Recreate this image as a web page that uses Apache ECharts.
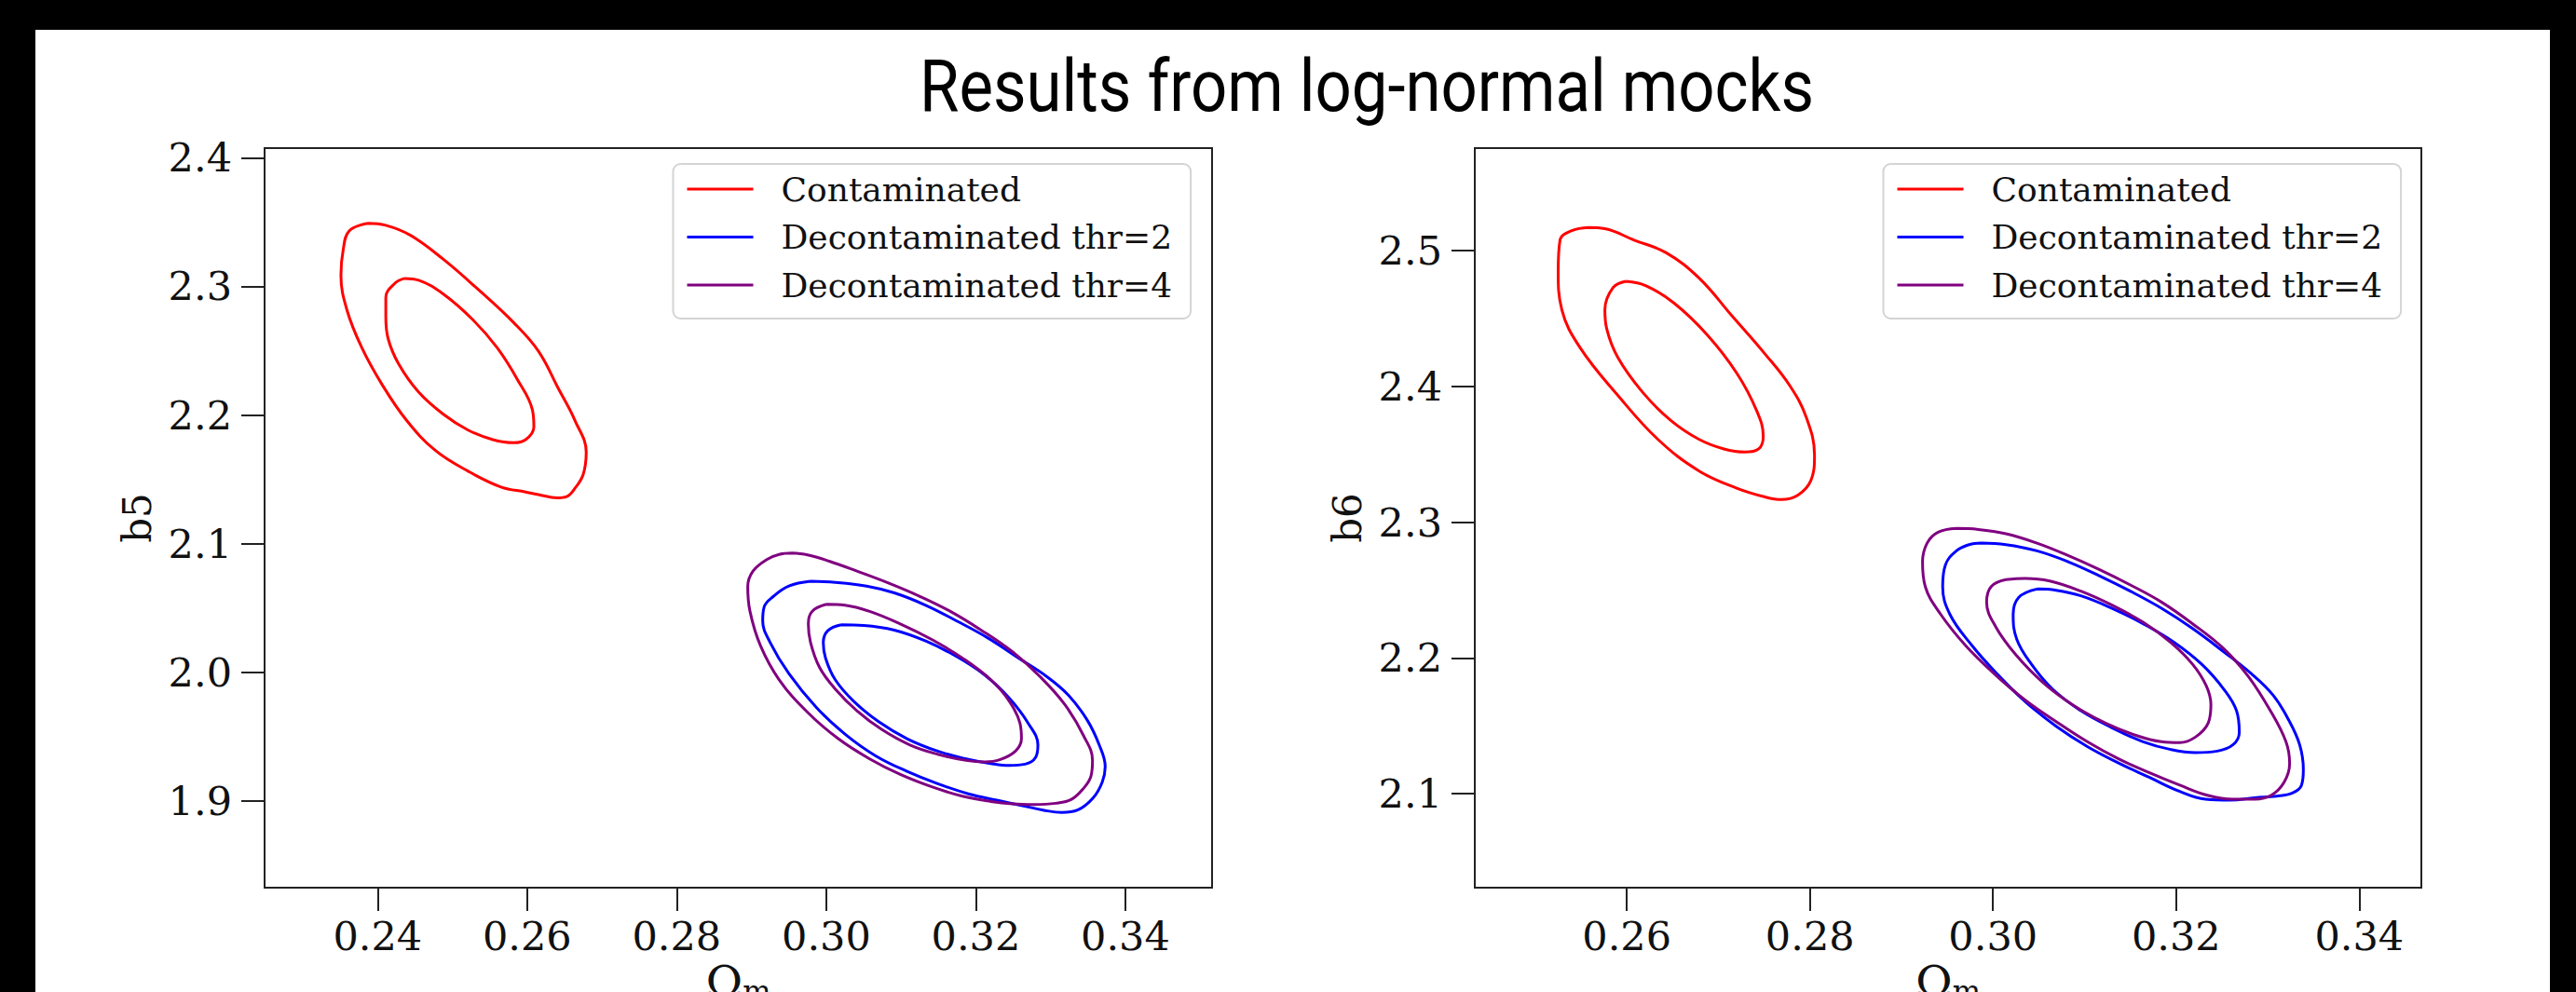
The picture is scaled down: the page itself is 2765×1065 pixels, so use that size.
<!DOCTYPE html>
<html>
<head>
<meta charset="utf-8">
<title>Results from log-normal mocks</title>
<script src="https://cdn.jsdelivr.net/npm/echarts@6/dist/echarts.min.js"></script>
<style>
  html, body { margin: 0; padding: 0; background: #000; }
  #main { width: 2765px; height: 1065px; }
</style>
</head>
<body>
<div id="main"></div>
<script>
// tick labels
const xTicksB5 = [0.24, 0.26, 0.28, 0.30, 0.32, 0.34]
const yTicksB5 = [1.9, 2.0, 2.1, 2.2, 2.3, 2.4]
const xTicksB6 = [0.26, 0.28, 0.30, 0.32, 0.34]
const yTicksB6 = [2.1, 2.2, 2.3, 2.4, 2.5]

// legend entries
const seriesNames = ['Contaminated', 'Decontaminated thr=2', 'Decontaminated thr=4']

// contours [Omega_m, b5] (inner = 1 sigma, outer = 2 sigma)
const b5ContamOuter = [[0.2387,2.3490],[0.2411,2.3475],[0.2444,2.3397],[0.2488,2.3210],[0.2532,2.2989],[0.2582,2.2718],[0.2615,2.2497],[0.2642,2.2203],[0.2664,2.1957],[0.2679,2.1711],[0.2675,2.1539],[0.2664,2.1431],[0.2653,2.1367],[0.2640,2.1357],[0.2615,2.1382],[0.2598,2.1402],[0.2565,2.1441],[0.2521,2.1564],[0.2477,2.1726],[0.2439,2.1957],[0.2406,2.2237],[0.2379,2.2522],[0.2359,2.2817],[0.2351,2.3087],[0.2354,2.3284],[0.2362,2.3431],[0.2387,2.3490]]
const b5ContamInner = [[0.2436,2.3062],[0.2455,2.3048],[0.2488,2.2940],[0.2527,2.2743],[0.2560,2.2522],[0.2587,2.2276],[0.2607,2.2041],[0.2609,2.1907],[0.2598,2.1809],[0.2582,2.1785],[0.2554,2.1809],[0.2521,2.1883],[0.2488,2.2006],[0.2455,2.2178],[0.2428,2.2399],[0.2414,2.2596],[0.2411,2.2768],[0.2411,2.2915],[0.2423,2.3023],[0.2436,2.3062]]
const b5Thr2Outer = [[0.2979,2.0708],[0.3012,2.0700],[0.3054,2.0671],[0.3091,2.0618],[0.3133,2.0522],[0.3174,2.0401],[0.3216,2.0268],[0.3257,2.0112],[0.3295,1.9967],[0.3324,1.9822],[0.3349,1.9629],[0.3365,1.9436],[0.3373,1.9268],[0.3369,1.9147],[0.3357,1.9026],[0.3336,1.8930],[0.3315,1.8911],[0.3290,1.8930],[0.3261,1.8966],[0.3228,1.9007],[0.3191,1.9055],[0.3149,1.9135],[0.3108,1.9231],[0.3066,1.9352],[0.3025,1.9521],[0.2987,1.9726],[0.2950,1.9991],[0.2925,2.0232],[0.2915,2.0401],[0.2917,2.0510],[0.2929,2.0589],[0.2950,2.0671],[0.2979,2.0708]]
const b5Thr2Inner = [[0.3020,2.0370],[0.3050,2.0365],[0.3091,2.0329],[0.3133,2.0244],[0.3174,2.0124],[0.3212,1.9979],[0.3245,1.9798],[0.3270,1.9605],[0.3283,1.9436],[0.3280,1.9340],[0.3266,1.9287],[0.3245,1.9277],[0.3220,1.9292],[0.3187,1.9328],[0.3149,1.9388],[0.3108,1.9485],[0.3070,1.9617],[0.3037,1.9774],[0.3012,1.9943],[0.2999,2.0112],[0.2996,2.0232],[0.3002,2.0324],[0.3020,2.0370]]
const b5Thr4Outer = [[0.2954,2.0927],[0.2975,2.0913],[0.3004,2.0864],[0.3041,2.0787],[0.3083,2.0695],[0.3124,2.0594],[0.3166,2.0474],[0.3207,2.0329],[0.3249,2.0160],[0.3286,1.9967],[0.3319,1.9750],[0.3344,1.9509],[0.3356,1.9316],[0.3354,1.9195],[0.3344,1.9099],[0.3328,1.9014],[0.3307,1.8983],[0.3278,1.8973],[0.3249,1.8978],[0.3220,1.8997],[0.3182,1.9038],[0.3141,1.9111],[0.3099,1.9207],[0.3058,1.9328],[0.3016,1.9485],[0.2975,1.9690],[0.2937,1.9943],[0.2912,2.0208],[0.2898,2.0474],[0.2895,2.0667],[0.2902,2.0787],[0.2921,2.0879],[0.2937,2.0917],[0.2954,2.0927]]
const b5Thr4Inner = [[0.3000,2.0529],[0.3025,2.0522],[0.3058,2.0474],[0.3099,2.0377],[0.3141,2.0256],[0.3182,2.0112],[0.3220,1.9943],[0.3245,1.9774],[0.3259,1.9605],[0.3261,1.9485],[0.3253,1.9388],[0.3232,1.9321],[0.3212,1.9304],[0.3187,1.9316],[0.3149,1.9364],[0.3112,1.9436],[0.3074,1.9557],[0.3041,1.9702],[0.3012,1.9871],[0.2991,2.0039],[0.2979,2.0232],[0.2976,2.0377],[0.2981,2.0474],[0.3000,2.0529]]

// contours [Omega_m, b6], right panel
const b6ContamOuter = [[0.2558,2.5170],[0.2576,2.5161],[0.2608,2.5077],[0.2643,2.4984],[0.2679,2.4797],[0.2715,2.4518],[0.2751,2.4238],[0.2778,2.4005],[0.2796,2.3772],[0.2805,2.3493],[0.2801,2.3306],[0.2787,2.3199],[0.2769,2.3166],[0.2751,2.3185],[0.2720,2.3250],[0.2679,2.3376],[0.2634,2.3609],[0.2590,2.3935],[0.2549,2.4284],[0.2529,2.4564],[0.2525,2.4844],[0.2527,2.5077],[0.2540,2.5147],[0.2558,2.5170]]
const b6ContamInner = [[0.2599,2.4774],[0.2621,2.4741],[0.2652,2.4611],[0.2688,2.4378],[0.2720,2.4098],[0.2742,2.3818],[0.2749,2.3632],[0.2744,2.3539],[0.2729,2.3516],[0.2706,2.3539],[0.2679,2.3609],[0.2648,2.3749],[0.2617,2.3958],[0.2590,2.4214],[0.2578,2.4424],[0.2576,2.4564],[0.2585,2.4728],[0.2599,2.4774]]
const b6Thr2Outer = [[0.2987,2.2845],[0.3014,2.2834],[0.3048,2.2788],[0.3082,2.2708],[0.3116,2.2605],[0.3150,2.2491],[0.3184,2.2365],[0.3218,2.2216],[0.3252,2.2045],[0.3282,2.1885],[0.3306,2.1725],[0.3323,2.1542],[0.3335,2.1359],[0.3339,2.1176],[0.3337,2.1062],[0.3327,2.1004],[0.3310,2.0981],[0.3286,2.0970],[0.3259,2.0952],[0.3232,2.0959],[0.3204,2.1016],[0.3171,2.1119],[0.3137,2.1226],[0.3103,2.1347],[0.3069,2.1496],[0.3035,2.1679],[0.3004,2.1885],[0.2977,2.2091],[0.2953,2.2319],[0.2945,2.2525],[0.2948,2.2685],[0.2960,2.2788],[0.2974,2.2834],[0.2987,2.2845]]
const b6Thr2Inner = [[0.3048,2.2507],[0.3069,2.2498],[0.3096,2.2457],[0.3130,2.2365],[0.3164,2.2251],[0.3198,2.2114],[0.3228,2.1953],[0.3252,2.1770],[0.3266,2.1610],[0.3269,2.1450],[0.3262,2.1359],[0.3245,2.1313],[0.3221,2.1302],[0.3194,2.1325],[0.3164,2.1382],[0.3130,2.1485],[0.3096,2.1610],[0.3065,2.1770],[0.3042,2.1953],[0.3026,2.2136],[0.3022,2.2319],[0.3028,2.2445],[0.3048,2.2507]]
const b6Thr4Outer = [[0.2960,2.2953],[0.2984,2.2946],[0.3014,2.2914],[0.3048,2.2845],[0.3082,2.2754],[0.3116,2.2651],[0.3150,2.2537],[0.3184,2.2411],[0.3218,2.2251],[0.3252,2.2068],[0.3279,2.1862],[0.3303,2.1610],[0.3320,2.1382],[0.3324,2.1222],[0.3318,2.1084],[0.3304,2.0988],[0.3286,2.0959],[0.3262,2.0959],[0.3235,2.0986],[0.3204,2.1062],[0.3171,2.1153],[0.3137,2.1256],[0.3103,2.1382],[0.3069,2.1530],[0.3035,2.1690],[0.3001,2.1885],[0.2970,2.2091],[0.2943,2.2319],[0.2926,2.2525],[0.2923,2.2708],[0.2928,2.2845],[0.2940,2.2925],[0.2960,2.2953]]
const b6Thr4Inner = [[0.3014,2.2576],[0.3035,2.2585],[0.3062,2.2566],[0.3096,2.2491],[0.3130,2.2388],[0.3164,2.2262],[0.3194,2.2114],[0.3218,2.1953],[0.3233,2.1793],[0.3238,2.1656],[0.3235,2.1519],[0.3221,2.1416],[0.3204,2.1375],[0.3184,2.1382],[0.3157,2.1427],[0.3123,2.1519],[0.3089,2.1645],[0.3055,2.1816],[0.3025,2.2022],[0.3003,2.2228],[0.2993,2.2411],[0.2998,2.2525],[0.3014,2.2576]]

// axis ranges
const xRangeB5 = [0.22489, 0.35159]
const yRangeB5 = [1.83271, 2.40745]
const xRangeB6 = [0.24339, 0.34679]
const yRangeB6 = [2.0307, 2.5755]

const colors = ['#ff0000', '#0000ff', '#800080']
const serif = 'DejaVu Serif'
const title = 'Results from log-normal mocks'

let chart = echarts.init(document.getElementById('main'), null, { renderer: 'svg' })

// matplotlib title font is a condensed sans, squeeze a normal one to the same width
let titleFont = '78px Roboto'
let ctx = document.createElement('canvas').getContext('2d')
ctx.font = titleFont
let titleScale = 960 / ctx.measureText(title).width

function contour(name, data, color, idx) {
  return {
    type: 'line',
    name: name,
    data: data,
    xAxisIndex: idx,
    yAxisIndex: idx,
    symbol: 'none',
    smooth: 0.4,
    silent: true,
    lineStyle: { color: color, width: 3 },
    itemStyle: { color: color }
  }
}

function xAxis(idx, range, ticks, gap) {
  return {
    type: 'value',
    gridIndex: idx,
    min: range[0],
    max: range[1],
    axisLine: { show: false },
    splitLine: { show: false },
    axisTick: { show: true, length: 25, customValues: ticks, lineStyle: { color: '#222', width: 2 } },
    axisLabel: {
      customValues: ticks,
      formatter: v => v.toFixed(2),
      fontFamily: serif, fontSize: 43, color: '#111', margin: 30
    },
    // Omega_m, cut by the bottom edge as in the original figure
    name: '{o|Ω}{s|m}',
    nameLocation: 'middle',
    nameGap: gap,
    nameTextStyle: {
      rich: {
        o: { fontFamily: serif, fontSize: 48, color: '#111' },
        s: { fontFamily: serif, fontSize: 32, color: '#111', padding: [18, 0, 0, 0] }
      }
    }
  }
}

function yAxis(idx, range, ticks, name) {
  return {
    type: 'value',
    gridIndex: idx,
    min: range[0],
    max: range[1],
    axisLine: { show: false },
    splitLine: { show: false },
    axisTick: { show: true, length: 25, customValues: ticks, lineStyle: { color: '#222', width: 2 } },
    axisLabel: {
      customValues: ticks,
      formatter: v => v.toFixed(1),
      fontFamily: serif, fontSize: 43, color: '#111', margin: 35
    },
    name: name,
    nameLocation: 'middle',
    nameRotate: 90,
    nameGap: 116,
    nameTextStyle: { fontFamily: serif, fontSize: 42, color: '#111' }
  }
}

function legend(left) {
  return {
    data: seriesNames,
    orient: 'vertical',
    left: left,
    top: 176,
    icon: 'rect',
    itemWidth: 71,
    itemHeight: 3,
    itemGap: 15.5,
    padding: [9, 20, 18, 15],
    selectedMode: false,
    backgroundColor: '#fff',
    borderColor: '#d4d4d4',
    borderWidth: 2,
    borderRadius: 8,
    itemStyle: { borderWidth: 0 },
    textStyle: { fontFamily: serif, fontSize: 36, color: '#111', padding: [0, 0, 0, 25] }
  }
}

let gridStyle = { show: true, borderColor: '#222', borderWidth: 2, backgroundColor: '#fff', containLabel: false, outerBoundsMode: 'none' }

let option = {
  backgroundColor: '#000',
  animation: false,
  graphic: {
    elements: [
      { type: 'rect', z: -100, shape: { x: 38, y: 32, width: 2699, height: 1040 }, style: { fill: '#fff' } },
      {
        type: 'text', z: 100, x: 1467, y: 92, scaleX: titleScale,
        style: { text: title, font: titleFont, fill: '#000', textAlign: 'center', verticalAlign: 'middle' }
      }
    ]
  },
  grid: [
    Object.assign({ left: 284, top: 159, width: 1017, height: 794 }, gridStyle),
    Object.assign({ left: 1583, top: 159, width: 1016, height: 794 }, gridStyle)
  ],
  xAxis: [xAxis(0, xRangeB5, xTicksB5, 77), xAxis(1, xRangeB6, xTicksB6, 77)],
  yAxis: [yAxis(0, yRangeB5, yTicksB5, 'b5'), yAxis(1, yRangeB6, yTicksB6, 'b6')],
  legend: [legend(722.5), legend(2021.5)],
  series: [
    contour(seriesNames[0], b5ContamOuter, colors[0], 0),
    contour(seriesNames[0], b5ContamInner, colors[0], 0),
    contour(seriesNames[1], b5Thr2Outer, colors[1], 0),
    contour(seriesNames[1], b5Thr2Inner, colors[1], 0),
    contour(seriesNames[2], b5Thr4Outer, colors[2], 0),
    contour(seriesNames[2], b5Thr4Inner, colors[2], 0),
    contour(seriesNames[0], b6ContamOuter, colors[0], 1),
    contour(seriesNames[0], b6ContamInner, colors[0], 1),
    contour(seriesNames[1], b6Thr2Outer, colors[1], 1),
    contour(seriesNames[1], b6Thr2Inner, colors[1], 1),
    contour(seriesNames[2], b6Thr4Outer, colors[2], 1),
    contour(seriesNames[2], b6Thr4Inner, colors[2], 1)
  ]
}

chart.setOption(option)
</script>
</body>
</html>
